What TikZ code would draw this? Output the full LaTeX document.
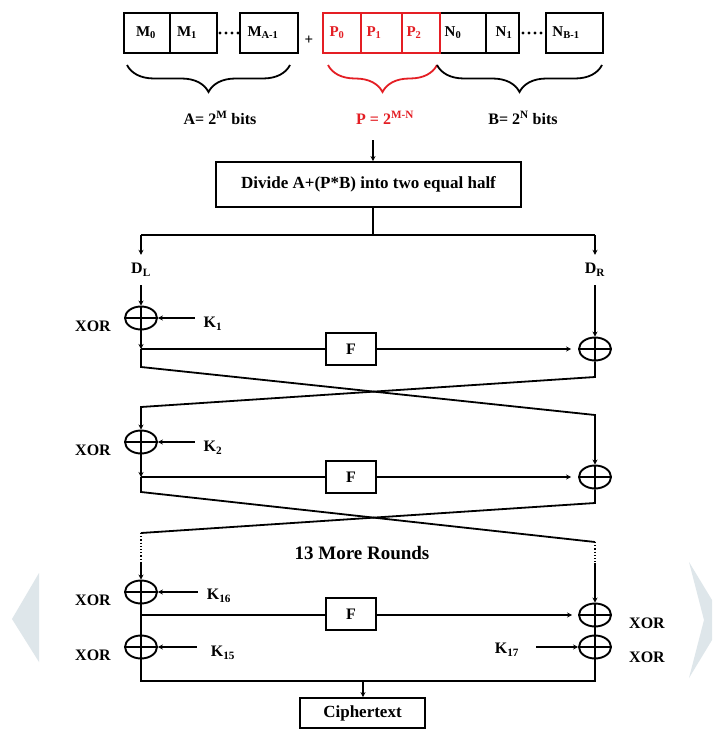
\documentclass[tikz,border=0pt]{standalone}
\usepackage{fontspec}
\setmainfont{Liberation Serif}
\usetikzlibrary{arrows.meta,shapes.geometric,decorations.pathreplacing}
\definecolor{myred}{RGB}{228,30,36}
\definecolor{wm}{RGB}{222,230,234}
\begin{document}
\begin{tikzpicture}[x=1pt,y=-1pt,
  ln/.style={line width=1.8pt},
  arr/.style={line width=1.8pt,-{Stealth[length=5pt,width=5pt]}},
  cell/.style={draw,line width=1.8pt,minimum height=40pt,inner sep=0pt},
  redcell/.style={cell,draw=myred},
  celltext/.style={font=\bfseries\fontsize{15}{15}\selectfont,inner sep=0pt},
  lab/.style={font=\bfseries\fontsize{16}{18}\selectfont,inner sep=0pt},
  xorc/.style={draw,ellipse,line width=1.9pt,minimum width=32pt,minimum height=23pt,inner sep=0pt,
    path picture={\draw[line width=1.9pt] (path picture bounding box.north) -- (path picture bounding box.south)
      (path picture bounding box.west) -- (path picture bounding box.east);}},
  fbox/.style={draw,line width=1.8pt,minimum width=50pt,minimum height=32pt,inner sep=0pt,
    font=\bfseries\fontsize{16}{16}\selectfont},
  dlab/.style={lab,minimum height=30pt},
  brc/.style={line width=1.8pt,decorate,decoration={brace,mirror,amplitude=27pt}}
]
\useasboundingbox (0,0) rectangle (712,733);
\fill[white] (0,0) rectangle (712,733);
% watermark chevrons
\fill[wm] (39,573) -- (12,619) -- (39,662) -- cycle;
\fill[wm] (689,562) -- (712,600) -- (712,640) -- (689,678) -- (704,620) -- cycle;

% top row of cells
\node[cell,minimum width=46pt] (m0) at (147,33) {};
\node[cell,minimum width=47pt] (m1) at (193.5,33) {};
\node[cell,minimum width=58pt] (ma) at (269,33) {};
\node[cell,minimum width=46pt] (n0) at (463,33) {};
\node[cell,minimum width=33pt] (n1) at (502.5,33) {};
\node[cell,minimum width=57pt] (nb) at (574.5,33) {};
\node[redcell,minimum width=38pt] (p0) at (342,33) {};
\node[redcell,minimum width=41pt] (p1) at (381.5,33) {};
\node[redcell,minimum width=38pt] (p2) at (421,33) {};
\node[celltext] (tm0) at (146,33) {M\textsubscript{0}};
\node[celltext] (tm1) at (187,33) {M\textsubscript{1}};
\node[celltext] (tma) at (263,33) {M\textsubscript{A-1}};
\node[celltext,text=myred] (tp0) at (337,33) {P\textsubscript{0}};
\node[celltext,text=myred] (tp1) at (374,33) {P\textsubscript{1}};
\node[celltext,text=myred] (tp2) at (414,33) {P\textsubscript{2}};
\node[celltext] (tn0) at (453,33) {N\textsubscript{0}};
\node[celltext] (tn1) at (504,33) {N\textsubscript{1}};
\node[celltext] (tnb) at (566,33) {N\textsubscript{B-1}};
\node[celltext] (plus) at (309,40) {+};
\foreach \x in {220,226,232,238} \fill (\x,33) circle (1.7pt);
\foreach \x in {523,529,535,541} \fill (\x,33) circle (1.7pt);

% braces and labels
\draw[brc] (127,65) -- (290,65);
\draw[brc,draw=myred] (328,65) -- (437,65);
\draw[brc] (437,65) -- (602,65);
\node[lab] (la) at (220,118) {A= 2\textsuperscript{M} bits};
\node[lab,text=myred] (lp) at (385,118) {P = 2\textsuperscript{M-N}};
\node[lab] (lb) at (523,118) {B= 2\textsuperscript{N} bits};

% divide box
\coordinate (a0) at (373,140);
\node[draw,line width=1.8pt,minimum width=305pt,minimum height=45pt,inner sep=0pt,
  font=\bfseries\fontsize{17}{17}\selectfont] (div) at (368.5,184.5) {Divide A+(P*B) into two equal half};
\draw[arr] (a0) -- (a0 |- div.north);
\coordinate (sp) at (373,235);
\coordinate (spl) at (141,235);
\coordinate (spr) at (595,235);
\draw[ln] (sp |- div.south) -- (sp);
\draw[ln] (spl) -- (spr);
\node[dlab] (dl) at (141,270) {D\textsubscript{L}};
\node[dlab] (dr) at (595,270) {D\textsubscript{R}};
\draw[arr] (spl) -- (dl.north);
\draw[arr] (spr) -- (dr.north);

% round 1
\node[xorc] (x1) at (141,318) {};
\node[lab] (xl1) at (93,326) {XOR};
\node[lab] (k1) at (213,324) {K\textsubscript{1}};
\draw[arr] (dl.south) -- (x1.north);
\draw[arr,shorten <=9pt] (k1.west |- x1) -- (x1.east);
\coordinate (c1) at (141,349);
\draw[arr] (x1.south) -- (c1);
\node[fbox] (f1) at (351,349) {F};
\node[xorc] (x1r) at (595,349) {};
\draw[ln] (c1) -- (f1.west);
\draw[arr,shorten >=7pt] (f1.east) -- (x1r.west);
\draw[arr] (dr.south) -- (x1r.north);

% cross 1
\coordinate (l1a) at (141,367);
\coordinate (r1b) at (595,415);
\coordinate (r1a) at (595,377);
\coordinate (l1b) at (141,407);

% round 2
\node[xorc] (x2) at (141,442) {};
\node[lab] (xl2) at (93,450) {XOR};
\node[lab] (k2) at (213,448) {K\textsubscript{2}};
\draw[arr,shorten <=9pt] (k2.west |- x2) -- (x2.east);
\coordinate (c2) at (141,477);
\draw[arr] (x2.south) -- (c2);
\node[fbox] (f2) at (351,477) {F};
\node[xorc] (x2r) at (595,477) {};
\draw[ln] (c2) -- (f2.west);
\draw[arr,shorten >=7pt] (f2.east) -- (x2r.west);
\draw[arr] (c1) -- (l1a) -- (r1b) -- (x2r.north);
\draw[arr] (x1r.south) -- (r1a) -- (l1b) -- (x2.north);

% cross 2
\coordinate (l2a) at (141,492);
\coordinate (r2b) at (595,542);
\coordinate (r2c) at (595,563);
\coordinate (r2a) at (595,503);
\coordinate (l2b) at (141,533);
\coordinate (l2c) at (141,563);
\draw[ln] (c2) -- (l2a) -- (r2b);
\draw[ln] (x2r.south) -- (r2a) -- (l2b);
\draw[line width=1.2pt,dotted] (r2b) -- (r2c);
\draw[line width=1.2pt,dotted] (l2b) -- (l2c);
\node[font=\bfseries\fontsize{19}{19}\selectfont,inner sep=0pt] (more) at (362,553) {13 More Rounds};

% round 16
\node[xorc] (x16) at (141,592) {};
\node[lab] (xl16) at (93,600) {XOR};
\node[lab] (k16) at (219,596) {K\textsubscript{16}};
\draw[arr] (l2c) -- (x16.north);
\draw[arr,shorten <=9pt] (k16.west |- x16) -- (x16.east);
\coordinate (c3) at (141,615);
\node[fbox] (f3) at (351,614) {F};
\node[xorc] (x16r) at (595,615) {};
\node[lab] (xr16) at (647,623) {XOR};
\draw[arr] (r2c) -- (x16r.north);
\draw[ln] (c3) -- (f3.west |- c3);
\draw[arr,shorten >=6pt] (f3.east |- c3) -- (x16r.west);

% final XORs
\node[xorc] (x15) at (141,647) {};
\node[lab] (xl15) at (93,655) {XOR};
\node[lab] (k15) at (223,653) {K\textsubscript{15}};
\draw[arr,shorten <=14pt] (k15.west |- x15) -- (x15.east);
\node[xorc] (x17) at (595,647) {};
\node[lab] (xr17) at (647,657) {XOR};
\node[lab] (k17) at (507,650) {K\textsubscript{17}};
\draw[arr,shorten <=17pt] (k17.east |- x17) -- (x17.west);
\draw[ln] (x16.south) -- (x15.north);
\draw[ln] (x16r.south) -- (x17.north);

% output
\coordinate (bl) at (141,681);
\coordinate (br) at (595,681);
\coordinate (bm) at (363,681);
\node[draw,line width=1.8pt,minimum width=125pt,minimum height=30pt,inner sep=0pt,
  font=\bfseries\fontsize{17}{17}\selectfont] (ct) at (362.5,713) {Ciphertext};
\draw[ln] (x15.south) -- (bl) -- (br) -- (x17.south);
\draw[arr] (bm) -- (bm |- ct.north);
\end{tikzpicture}
\end{document}
